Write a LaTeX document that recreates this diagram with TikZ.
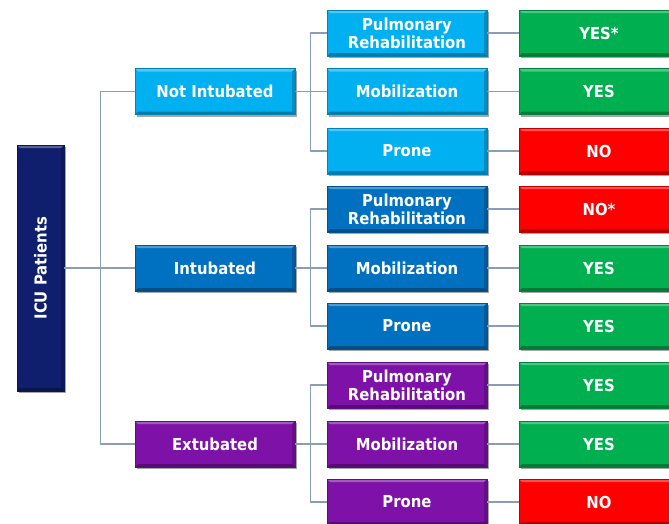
\documentclass[tikz,border=0pt]{standalone}
\usepackage{fontspec}
\setmainfont{DejaVu Sans}
\newfontfamily\boxfont{DejaVu Sans Condensed}
\usetikzlibrary{shadows}
\definecolor{icuc}{HTML}{0F1F6E}
\definecolor{nic}{HTML}{00B0F0}
\definecolor{inc}{HTML}{0070C0}
\definecolor{exc}{HTML}{7E12A8}
\definecolor{yesc}{HTML}{00B050}
\definecolor{noc}{HTML}{FF0000}
\definecolor{linec}{HTML}{8A9DB6}
\tikzset{
  bev/.style={draw=#1!75!black, line width=0.6pt, fill=#1, text=white,
    font=\boxfont\bfseries\fontsize{16.5}{18}\selectfont, align=center,
    drop shadow={shadow xshift=1.5pt, shadow yshift=-2pt, fill=black, opacity=0.35},
    path picture={
      \fill[white,opacity=0.3] (path picture bounding box.north west) -- (path picture bounding box.north east)
        -- ([xshift=-3pt,yshift=-3pt]path picture bounding box.north east) -- ([xshift=3pt,yshift=-3pt]path picture bounding box.north west) -- cycle;
      \fill[black,opacity=0.3] (path picture bounding box.south west) -- (path picture bounding box.south east)
        -- ([xshift=-3pt,yshift=3pt]path picture bounding box.south east) -- ([xshift=3pt,yshift=3pt]path picture bounding box.south west) -- cycle;
      \fill[black,opacity=0.2] (path picture bounding box.south east) -- (path picture bounding box.north east)
        -- ([xshift=-3pt,yshift=-3pt]path picture bounding box.north east) -- ([xshift=-3pt,yshift=3pt]path picture bounding box.south east) -- cycle;
    }},
  lvl/.style={bev=#1, minimum width=160pt, minimum height=46pt, inner sep=0pt},
  conn/.style={draw=linec, line width=1.2pt}
}
\begin{document}
\begin{tikzpicture}[x=1pt,y=-1pt]
\useasboundingbox (0,0) rectangle (669,523);
\clip (0,0) rectangle (669,523);
% root
\node[bev=icuc, minimum width=47pt, minimum height=246pt, inner sep=0pt] (icu) at (40.5,268) {\rotatebox{90}{ICU Patients}};
% level 1
\node[lvl=nic] (ni) at (215,91.5) {Not Intubated};
\node[lvl=inc] (in) at (215,268) {Intubated};
\node[lvl=exc] (ex) at (215,444) {Extubated};
% level 2
\node[lvl=nic] (nip) at (407,33) {Pulmonary\\Rehabilitation};
\node[lvl=nic] (nim) at (407,91.5) {Mobilization};
\node[lvl=nic] (nir) at (407,151) {Prone};
\node[lvl=inc] (inp) at (407,209) {Pulmonary\\Rehabilitation};
\node[lvl=inc] (inm) at (407,268) {Mobilization};
\node[lvl=inc] (inr) at (407,326) {Prone};
\node[lvl=exc] (exp) at (407,385) {Pulmonary\\Rehabilitation};
\node[lvl=exc] (exm) at (407,444) {Mobilization};
\node[lvl=exc] (exr) at (407,502) {Prone};
% level 3
\node[lvl=yesc] (nipa) at (599,33) {YES*};
\node[lvl=yesc] (nima) at (599,91.5) {YES};
\node[lvl=noc]  (nira) at (599,151) {NO};
\node[lvl=noc]  (inpa) at (599,209) {NO*};
\node[lvl=yesc] (inma) at (599,268) {YES};
\node[lvl=yesc] (inra) at (599,326) {YES};
\node[lvl=yesc] (expa) at (599,385) {YES};
\node[lvl=yesc] (exma) at (599,444) {YES};
\node[lvl=noc]  (exra) at (599,502) {NO};
% connectors
\coordinate (j0) at ([xshift=36pt]icu.east);
\coordinate (j1) at ([xshift=15pt]ni.east);
\coordinate (j2) at ([xshift=15pt]in.east);
\coordinate (j3) at ([xshift=15pt]ex.east);
\draw[conn] (icu.east) -- (j0);
\draw[conn] (j0) |- (ni.west);
\draw[conn] (j0) |- (ex.west);
\draw[conn] (j0) -- (in.west);
\draw[conn] (ni.east) -- (j1);
\draw[conn] (j1) |- (nip.west);
\draw[conn] (j1) |- (nir.west);
\draw[conn] (j1) -- (nim.west);
\draw[conn] (in.east) -- (j2);
\draw[conn] (j2) |- (inp.west);
\draw[conn] (j2) |- (inr.west);
\draw[conn] (j2) -- (inm.west);
\draw[conn] (ex.east) -- (j3);
\draw[conn] (j3) |- (exp.west);
\draw[conn] (j3) |- (exr.west);
\draw[conn] (j3) -- (exm.west);
\draw[conn] (nip.east) -- (nipa.west);
\draw[conn] (nim.east) -- (nima.west);
\draw[conn] (nir.east) -- (nira.west);
\draw[conn] (inp.east) -- (inpa.west);
\draw[conn] (inm.east) -- (inma.west);
\draw[conn] (inr.east) -- (inra.west);
\draw[conn] (exp.east) -- (expa.west);
\draw[conn] (exm.east) -- (exma.west);
\draw[conn] (exr.east) -- (exra.west);
\end{tikzpicture}
\end{document}
